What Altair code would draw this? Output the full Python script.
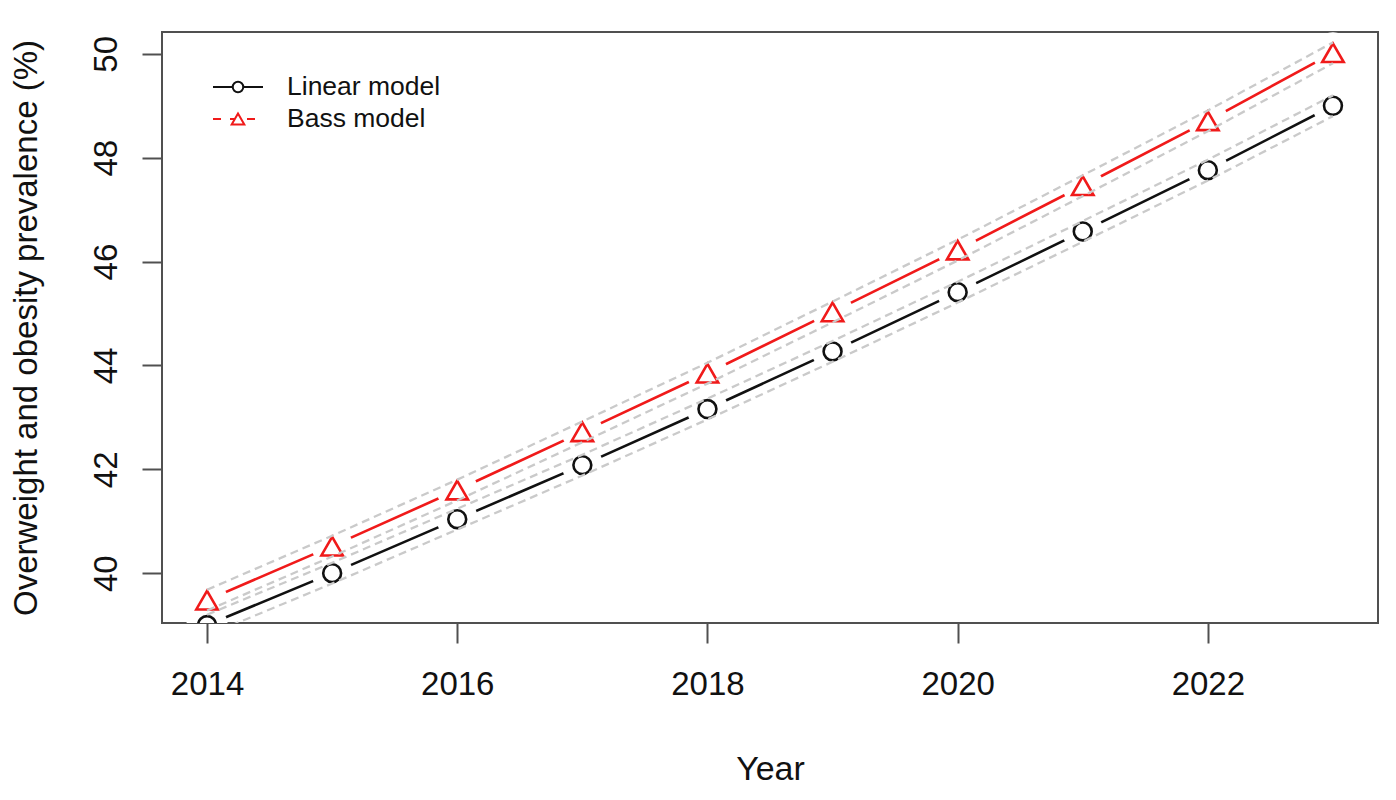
import altair as alt
import pandas as pd

years = [2014, 2015, 2016, 2017, 2018, 2019, 2020, 2021, 2022, 2023]

linear = [39.00, 40.00, 41.04, 42.08, 43.16, 44.27, 45.41, 46.58, 47.76, 49.00]
linear_lo = [38.80, 39.80, 40.84, 41.88, 42.96, 44.07, 45.21, 46.38, 47.56, 48.80]
linear_hi = [39.20, 40.20, 41.24, 42.28, 43.36, 44.47, 45.61, 46.78, 47.96, 49.20]

bass = [39.48, 40.52, 41.60, 42.72, 43.85, 45.03, 46.22, 47.46, 48.71, 50.02]
bass_lo = [39.28, 40.32, 41.40, 42.52, 43.65, 44.83, 46.02, 47.26, 48.51, 49.82]
bass_hi = [39.68, 40.72, 41.80, 42.92, 44.05, 45.23, 46.42, 47.66, 48.91, 50.22]

models = ["Linear model", "Bass model"]
colors = ["#111111", "#f01a1a"]
shapes = ["circle", "triangle-up"]
sizes = [320, 460]

x_ticks = [2014, 2016, 2018, 2020, 2022]
y_ticks = [40, 42, 44, 46, 48, 50]

FONT = "Liberation Sans"
GREY = "#cacaca"
BOX = "#505050"

series = pd.concat(
    [
        pd.DataFrame({"year": years, "model": models[0], "value": linear}),
        pd.DataFrame({"year": years, "model": models[1], "value": bass}),
    ]
)

bands = pd.concat(
    [
        pd.DataFrame({"year": years, "band": "lin_lo", "value": linear_lo}),
        pd.DataFrame({"year": years, "band": "lin_hi", "value": linear_hi}),
        pd.DataFrame({"year": years, "band": "bass_lo", "value": bass_lo}),
        pd.DataFrame({"year": years, "band": "bass_hi", "value": bass_hi}),
    ]
)

x_enc = alt.X(
    "year:Q",
    scale=alt.Scale(domain=[2013.64, 2023.36], nice=False, zero=False),
    axis=alt.Axis(
        values=x_ticks,
        format="d",
        title="Year",
        titleY=156,
        titleBaseline="alphabetic",
        titleFontSize=34,
        labelPadding=25,
    ),
)
y_enc = alt.Y(
    "value:Q",
    scale=alt.Scale(domain=[39.04, 50.42], nice=False, zero=False),
    axis=alt.Axis(
        values=y_ticks,
        title="Overweight and obesity prevalence (%)",
        titleX=-126,
        titleY=295.5,
        titleAngle=270,
        titleAlign="center",
        titleBaseline="alphabetic",
        titleFontSize=33,
        labelAngle=270,
        labelAlign="center",
        labelBaseline="alphabetic",
        labelPadding=26,
    ),
)
color_enc = alt.Color(
    "model:N", scale=alt.Scale(domain=models, range=colors), legend=None
)

lines = (
    alt.Chart(series)
    .mark_line(strokeWidth=2.6, clip=True)
    .encode(x=x_enc, y=y_enc, color=color_enc, detail="model:N")
)

# white discs give the R type="b" gaps round each point
gaps = (
    alt.Chart(series)
    .mark_circle(size=1700, color="white", opacity=1, clip=True)
    .encode(x=x_enc, y=y_enc)
)

markers = (
    alt.Chart(series)
    .mark_point(filled=False, strokeWidth=2.6, opacity=1, clip=True)
    .encode(
        x=x_enc,
        y=y_enc,
        color=color_enc,
        shape=alt.Shape(
            "model:N", scale=alt.Scale(domain=models, range=shapes), legend=None
        ),
        size=alt.Size(
            "model:N", scale=alt.Scale(domain=models, range=sizes), legend=None
        ),
    )
)

band_lines = (
    alt.Chart(bands)
    .mark_line(color=GREY, strokeWidth=2.3, strokeDash=[8, 5], clip=True)
    .encode(x=x_enc, y=y_enc, detail="band:N")
)


def legend_item(i, y):
    row = pd.DataFrame({"label": [models[i]]})
    base = alt.Chart(row)
    dash = [1, 0] if i == 0 else [8, 9]
    seg = base.mark_rule(color=colors[i], strokeWidth=2, strokeDash=dash).encode(
        x=alt.value(51), x2=alt.value(101), y=alt.value(y)
    )
    sym = base.mark_point(
        shape=shapes[i],
        size=110 if i == 0 else 160,
        filled=True,
        fill="white",
        stroke=colors[i],
        strokeWidth=2,
        opacity=1,
    ).encode(x=alt.value(76), y=alt.value(y))
    txt = base.mark_text(
        align="left", baseline="middle", font=FONT, fontSize=26.5, color="#111111"
    ).encode(x=alt.value(125), y=alt.value(y), text="label:N")
    return seg + sym + txt


chart = (
    alt.layer(
        lines,
        gaps,
        markers,
        band_lines,
        legend_item(0, 55),
        legend_item(1, 87),
    )
    .properties(
        width=1216,
        height=591,
        autosize=alt.AutoSizeParams(type="none"),
        padding={"left": 154, "top": 24, "right": 10, "bottom": 170},
        background="white",
    )
    .configure_view(stroke=BOX, strokeWidth=2)
    .configure_axis(
        domain=False,
        grid=False,
        tickSize=20,
        tickWidth=2,
        tickColor=BOX,
        labelFont=FONT,
        labelFontSize=33,
        labelColor="#111111",
        titleFont=FONT,
        titleFontWeight="normal",
        titleColor="#111111",
    )
)

chart.save("out.html", embed_options={"renderer": "svg", "actions": False})
